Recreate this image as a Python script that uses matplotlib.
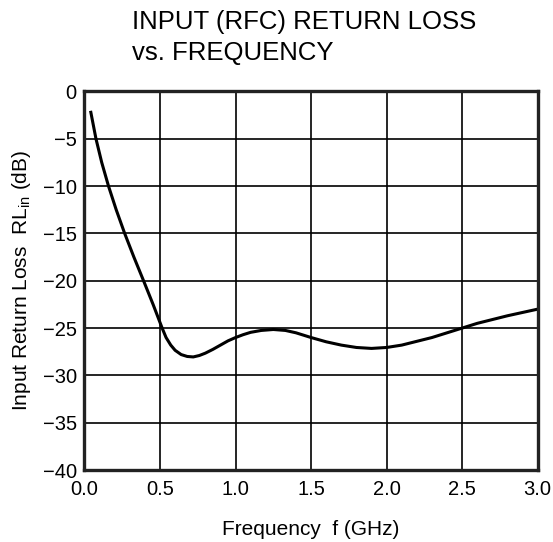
import matplotlib
matplotlib.use('Agg')
from matplotlib import pyplot as plt

plt.rcParams['font.family'] = ['Liberation Sans', 'DejaVu Sans']
plt.rcParams['mathtext.fontset'] = 'custom'
plt.rcParams['mathtext.rm'] = 'Liberation Sans'

freq_ghz = [0.042, 0.076, 0.114, 0.159, 0.21, 0.266, 0.327, 0.391, 0.454, 0.514,
            0.54, 0.571, 0.6, 0.64, 0.68, 0.72, 0.76, 0.8, 0.85, 0.9, 0.95,
            1.0, 1.05, 1.1, 1.17, 1.25, 1.33, 1.4, 1.5, 1.6, 1.7, 1.8, 1.9,
            2.0, 2.1, 2.2, 2.3, 2.4, 2.5, 2.6, 2.7, 2.8, 2.9, 3.0]
rl_db = [-2.2, -5.0, -7.5, -10.0, -12.5, -15.0, -17.5, -20.0, -22.5, -25.0,
         -26.0, -26.8, -27.35, -27.8, -28.0, -28.05, -27.9, -27.65, -27.25, -26.8, -26.35,
         -26.0, -25.7, -25.45, -25.25, -25.15, -25.25, -25.5, -26.0, -26.45, -26.8, -27.05, -27.15,
         -27.05, -26.8, -26.4, -26.0, -25.5, -25.0, -24.5, -24.1, -23.7, -23.35, -23.0]

x_ticks = [0.0, 0.5, 1.0, 1.5, 2.0, 2.5, 3.0]
y_ticks = [0, -5, -10, -15, -20, -25, -30, -35, -40]

fig = plt.figure(figsize=(5.53, 5.42), dpi=100)
ax = fig.add_axes([0.1528, 0.1328, 0.8195, 0.6984])

ax.plot(freq_ghz, rl_db, color='black', lw=2.2, solid_joinstyle='round')

ax.set_xlim(0, 3.0)
ax.set_ylim(-40, 0)
ax.set_xticks(x_ticks)
ax.set_xticklabels([f'{t:.1f}' for t in x_ticks])
ax.set_yticks(y_ticks)
ax.set_yticklabels([str(t).replace('-', '\u2212') for t in y_ticks])
ax.tick_params(length=0, labelsize=14.5, colors='black')
ax.tick_params(axis='x', pad=7)
ax.tick_params(axis='y', pad=5.5)
ax.grid(True, color='black', lw=1.2)
for s in ax.spines.values():
    s.set_linewidth(2.4)
    s.set_color('#222222')

ax.set_xlabel('Frequency  f (GHz)', fontsize=15, va='baseline')
ax.xaxis.set_label_coords(0.5, -0.1704)
ax.set_ylabel(r'Input Return Loss  RL$_{\mathrm{in}}$ (dB)', fontsize=15,
              va='center', ha='center')
ax.yaxis.set_label_coords(-0.138, 0.5)

fig.text(0.2378, 0.9474, 'INPUT (RFC) RETURN LOSS', fontsize=18.5, ha='left', va='baseline')
fig.text(0.2378, 0.8902, 'vs. FREQUENCY', fontsize=18.5, ha='left', va='baseline')

fig.savefig('out.png', dpi=100)
